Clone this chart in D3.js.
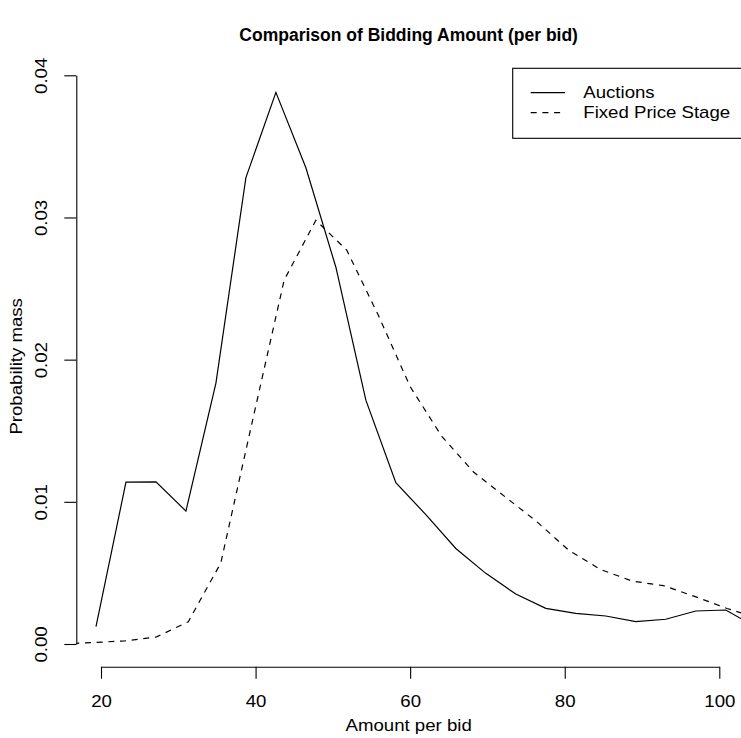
<!DOCTYPE html>
<html>
<head>
<meta charset="utf-8">
<script src="https://cdn.jsdelivr.net/npm/d3@7"></script>
<style>
  body { margin: 0; background: #fff; }
  svg { display: block; font-family: "Liberation Sans", Arial, Helvetica, sans-serif; }
</style>
</head>
<body>
<div id="chart-container"></div>
<script>
// amount per bid (x) and probability mass (y)
const auctionAmount = [19.35, 23.23, 27.11, 30.99, 34.87, 38.75, 42.63, 46.51, 50.39, 54.27,
    58.15, 62.03, 65.91, 69.79, 73.67, 77.55, 81.43, 85.31, 89.19, 93.07, 96.95, 100.83, 104.71];
const auctionMass = [0.00122, 0.01138, 0.01140, 0.00935, 0.01835, 0.0328, 0.0388, 0.0335, 0.0265, 0.01715,
    0.01134, 0.0091, 0.00672, 0.00497, 0.00351, 0.00251, 0.00216, 0.00197, 0.00157, 0.00174, 0.00232, 0.00239, 0.0012];

const fixedAmount = [14.9, 19.0, 23.1, 27.2, 31.3, 35.5, 39.6, 43.7, 47.8, 51.8, 55.9,
    60.0, 64.1, 68.2, 72.3, 76.4, 80.5, 84.6, 88.7, 92.8, 96.9, 101.0, 105.1];
const fixedMass = [0.00001, 0.0001, 0.00022, 0.0005, 0.00157, 0.0057, 0.0157, 0.0256, 0.0298, 0.0277, 0.0231,
    0.0181, 0.0146, 0.0121, 0.01035, 0.0086, 0.0066, 0.00525, 0.00443, 0.0041, 0.00333, 0.0025, 0.0018];

const xTicks = [20, 40, 60, 80, 100];
const yTicks = [0, 0.01, 0.02, 0.03, 0.04];
const legendLabels = ["Auctions", "Fixed Price Stage"];

const width = 741;
const height = 738;
const plot = { left: 76.3, right: 741, top: 66, bottom: 666.7 };
const fontSize = "16.2px";
const stretch = "scale(1.15,1)"; // the original lettering is a bit wider than Arial

const x = d3.scaleLinear().domain([20, 100]).range([101, 719.3]);
const y = d3.scaleLinear().domain([0, 0.04]).range([644, 75.3]);

const svg = d3.select("#chart-container")
    .append("svg")
    .attr("width", width)
    .attr("height", height);

svg.append("defs").append("clipPath")
    .attr("id", "plot-clip")
    .append("rect")
    .attr("x", plot.left)
    .attr("y", plot.top)
    .attr("width", plot.right - plot.left)
    .attr("height", plot.bottom - plot.top);

// title
svg.append("text")
    .attr("x", (plot.left + plot.right) / 2)
    .attr("y", 41)
    .attr("text-anchor", "middle")
    .style("font-size", "17.5px")
    .style("font-weight", "bold")
    .text("Comparison of Bidding Amount (per bid)");

// x axis
const xAxis = svg.append("g")
    .attr("transform", `translate(0,${plot.bottom})`)
    .call(d3.axisBottom(x).tickValues(xTicks).tickSize(12).tickSizeOuter(0));
xAxis.selectAll("text")
    .attr("y", null)
    .attr("dy", null)
    .attr("transform", `translate(0,40) ${stretch}`)
    .style("font-size", fontSize)
    .attr("fill", "#000");

// y axis
const yAxis = svg.append("g")
    .attr("transform", `translate(${plot.left},0)`)
    .call(d3.axisLeft(y).tickValues(yTicks).tickFormat(d3.format(".2f")).tickSize(12).tickSizeOuter(0));
yAxis.selectAll("text")
    .attr("x", null)
    .attr("y", null)
    .attr("dy", null)
    .attr("text-anchor", "middle")
    .attr("transform", `translate(-29.3,0) rotate(-90) ${stretch}`)
    .style("font-size", fontSize)
    .attr("fill", "#000");

svg.selectAll(".domain, .tick line")
    .attr("stroke", "#000")
    .attr("stroke-width", 1.1);
svg.selectAll(".tick text").attr("font-family", null);
xAxis.attr("font-family", null);
yAxis.attr("font-family", null);

// axis titles
svg.append("text")
    .attr("transform", `translate(${(plot.left + plot.right) / 2},731) ${stretch}`)
    .attr("text-anchor", "middle")
    .style("font-size", fontSize)
    .text("Amount per bid");

svg.append("text")
    .attr("transform", `translate(22,${(plot.top + plot.bottom) / 2}) rotate(-90) ${stretch}`)
    .attr("text-anchor", "middle")
    .style("font-size", fontSize)
    .text("Probability mass");

// lines
const line = d3.line()
    .x(d => x(d[0]))
    .y(d => y(d[1]));

const lines = svg.append("g").attr("clip-path", "url(#plot-clip)");

lines.append("path")
    .datum(d3.zip(auctionAmount, auctionMass))
    .attr("d", line)
    .attr("fill", "none")
    .attr("stroke", "#000")
    .attr("stroke-width", 1.2);

lines.append("path")
    .datum(d3.zip(fixedAmount, fixedMass))
    .attr("d", line)
    .attr("fill", "none")
    .attr("stroke", "#000")
    .attr("stroke-width", 1.2)
    .attr("stroke-dasharray", "6,5.7");

// legend
const legend = svg.append("g");
legend.append("rect")
    .attr("x", 512.7)
    .attr("y", 68.3)
    .attr("width", 240)
    .attr("height", 70)
    .attr("fill", "#fff")
    .attr("stroke", "#000")
    .attr("stroke-width", 1.1);

const legendItems = legend.selectAll(".legend-item")
    .data(legendLabels)
    .enter()
    .append("g")
    .attr("class", "legend-item")
    .attr("transform", (d, i) => `translate(0,${92.7 + i * 20})`);

legendItems.append("line")
    .attr("x1", 530.7)
    .attr("x2", 565)
    .attr("stroke", "#000")
    .attr("stroke-width", 1.2)
    .attr("stroke-dasharray", (d, i) => i === 0 ? null : "6,5.7");

legendItems.append("text")
    .attr("transform", `translate(583.3,5.6) ${stretch}`)
    .style("font-size", fontSize)
    .text(d => d);
</script>
</body>
</html>
